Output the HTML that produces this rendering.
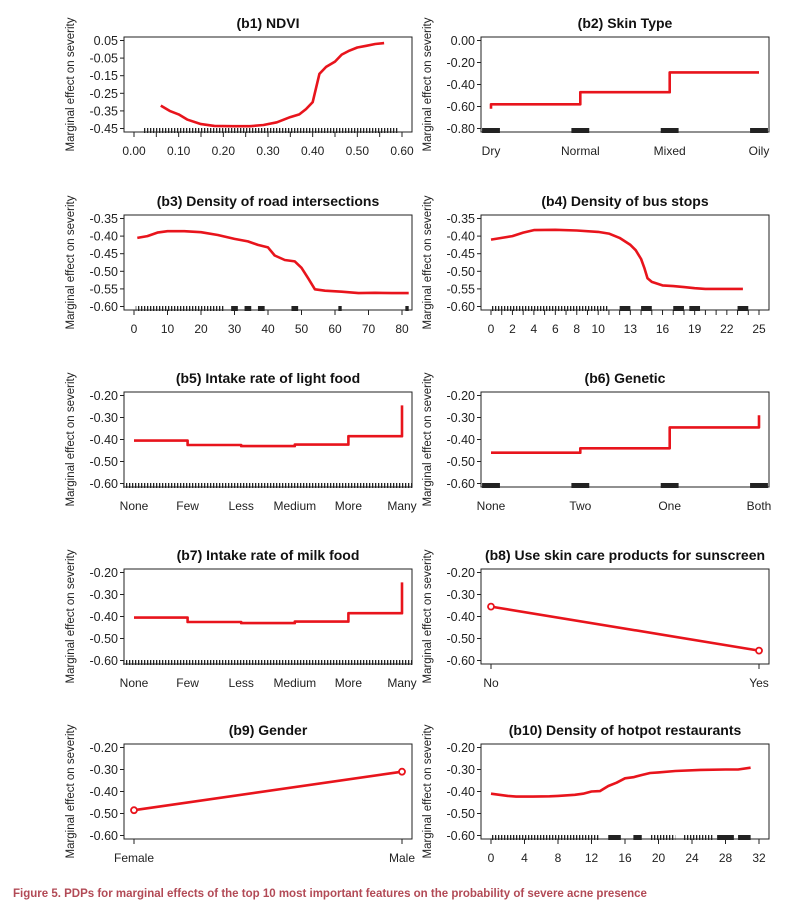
<!DOCTYPE html>
<html><head><meta charset="utf-8"><style>
html,body{margin:0;padding:0;background:#fff;width:804px;height:904px;overflow:hidden}
svg{display:block}
text{font-family:"Liberation Sans",Arial,sans-serif}
</style></head><body>
<svg id="fig" width="804" height="904" viewBox="0 0 804 904" xmlns="http://www.w3.org/2000/svg">
<defs>
<pattern id="rugpat" patternUnits="userSpaceOnUse" width="3" height="6"><rect x="0" y="0" width="1.3" height="6" fill="#222"/></pattern>
</defs>
<text x="13" y="897" font-size="11.5" font-weight="bold" fill="#b24a56">Figure 5.  PDPs for marginal effects of the top 10 most important features on the probability of severe acne presence</text>
</svg>
<script>
// ---- data arrays ----
const b1X=[0.06,0.08,0.10,0.12,0.15,0.18,0.22,0.26,0.29,0.32,0.35,0.37,0.385,0.40,0.415,0.43,0.45,0.465,0.48,0.50,0.52,0.54,0.56];
const b1Y=[-0.32,-0.35,-0.37,-0.40,-0.425,-0.435,-0.437,-0.437,-0.43,-0.415,-0.385,-0.37,-0.34,-0.30,-0.14,-0.10,-0.07,-0.03,-0.01,0.01,0.02,0.03,0.035];
const b1YTicks=[0.05,-0.05,-0.15,-0.25,-0.35,-0.45];
const b1XTicks=[0,0.05,0.1,0.15,0.2,0.25,0.3,0.35,0.4,0.45,0.5,0.55,0.6];
const b1XLabels=["0.00","","0.10","","0.20","","0.30","","0.40","","0.50","","0.60"];

const b2Cats=["Dry","Normal","Mixed","Oily"];
const b2X=[1,1,2,2,3,3,4];
const b2Y=[-0.62,-0.58,-0.58,-0.47,-0.47,-0.29,-0.29];
const b2YTicks=[0,-0.2,-0.4,-0.6,-0.8];

const b3X=[1,4,7,10,15,20,25,30,34,37,40,42,45,48,50,52,54,57,62,67,72,77,82];
const b3Y=[-0.405,-0.40,-0.39,-0.386,-0.386,-0.389,-0.397,-0.408,-0.415,-0.425,-0.432,-0.455,-0.468,-0.472,-0.49,-0.52,-0.551,-0.555,-0.558,-0.562,-0.561,-0.562,-0.562];
const b3YTicks=[-0.35,-0.40,-0.45,-0.50,-0.55,-0.60];
const b3XTicks=[0,10,20,30,40,50,60,70,80];

const b4X=[0,1,2,3,4,6,8,10,11,12,13,13.5,14,14.3,14.6,15,16,17,18,19,20,22,23.5];
const b4Y=[-0.41,-0.405,-0.40,-0.39,-0.383,-0.382,-0.384,-0.388,-0.393,-0.405,-0.425,-0.44,-0.465,-0.49,-0.52,-0.53,-0.54,-0.542,-0.545,-0.548,-0.55,-0.55,-0.55];
const b4YTicks=[-0.35,-0.40,-0.45,-0.50,-0.55,-0.60];
const b4XTicks=[0,1,2,3,4,5,6,7,8,9,10,11,12,13,14,15,16,17,18,19,20,21,22,23,24,25];
const b4XLabels=["0","","2","","4","","6","","8","","10","","","13","","","16","","","19","","","22","","","25"];

const b5Cats=["None","Few","Less","Medium","More","Many"];
const b5X=[1,2,2,3,3,4,4,5,5,6,6];
const b5Y=[-0.405,-0.405,-0.425,-0.425,-0.43,-0.43,-0.423,-0.423,-0.385,-0.385,-0.245];
const b5YTicks=[-0.2,-0.3,-0.4,-0.5,-0.6];

const b6Cats=["None","Two","One","Both"];
const b6X=[1,2,2,3,3,4,4];
const b6Y=[-0.46,-0.46,-0.44,-0.44,-0.345,-0.345,-0.29];
const b6YTicks=[-0.2,-0.3,-0.4,-0.5,-0.6];

const b7Cats=["None","Few","Less","Medium","More","Many"];
const b7X=[1,2,2,3,3,4,4,5,5,6,6];
const b7Y=[-0.405,-0.405,-0.425,-0.425,-0.43,-0.43,-0.423,-0.423,-0.385,-0.385,-0.245];
const b7YTicks=[-0.2,-0.3,-0.4,-0.5,-0.6];

const b8Cats=["No","Yes"];
const b8X=[1,2];
const b8Y=[-0.355,-0.555];
const b8YTicks=[-0.2,-0.3,-0.4,-0.5,-0.6];

const b9Cats=["Female","Male"];
const b9X=[1,2];
const b9Y=[-0.485,-0.31];
const b9YTicks=[-0.2,-0.3,-0.4,-0.5,-0.6];

const b10X=[0,1,2,3,5,7,8,10,11,12,13,14,15,16,17,18,19,20,22,25,28,29.5,31];
const b10Y=[-0.41,-0.415,-0.42,-0.423,-0.423,-0.422,-0.42,-0.415,-0.41,-0.40,-0.398,-0.375,-0.36,-0.34,-0.335,-0.325,-0.316,-0.313,-0.307,-0.302,-0.30,-0.30,-0.292];
const b10YTicks=[-0.2,-0.3,-0.4,-0.5,-0.6];
const b10XTicks=[0,4,8,12,16,20,24,28,32];

// rug ranges (data-space intervals where observations lie)
const b1Rug=[[0.02,0.59]];
const b2Rug=[[0.9,1.1],[1.9,2.1],[2.9,3.1],[3.9,4.1]];
const b3Rug=[[0.5,27],[29,31],[33,35],[37,39],[47,49],[61,62],[81,82]];
const b4Rug=[[0,11],[12,13],[14,15],[17,18],[18.5,19.5],[23,24]];
const b5Rug=[[0.8,6.2]];
const b6Rug=[[0.9,1.1],[1.9,2.1],[2.9,3.1],[3.9,4.1]];
const b7Rug=[[0.8,6.2]];
const b10Rug=[[0,13],[14,15.5],[17,18],[19,22],[23,26.5],[27,29],[29.5,31]];

// ---- rendering ----
const svg=document.getElementById('fig');
const NS='http://www.w3.org/2000/svg';
function mk(tag,attrs,parent){const e=document.createElementNS(NS,tag);for(const k in attrs)e.setAttribute(k,attrs[k]);(parent||svg).appendChild(e);return e;}
const colL=124,colR=481,boxW=288,boxH=95;
const rowTops=[37,215,392,569,744];

function panel(p){
  const bx=p.col===0?colL:colR, by=rowTops[p.row];
  const g=mk('g',{});
  
  
  const yt=p.yTicks, y0=yt[0], y1=yt[yt.length-1];
  const ys=v=>by+3.5+(y0-v)/(y0-y1)*(boxH-7);
  const xs=v=>bx+10+(v-p.xmin)/(p.xmax-p.xmin)*(boxW-20);
  const t=mk('text',{x:bx+boxW/2,y:by-9,'font-size':14,'font-weight':'bold','text-anchor':'middle',fill:'#111'},g);
  t.textContent=p.title;
  
  
  const yl=mk('text',{transform:`translate(${bx-50},${by+boxH/2}) rotate(-90)`,'font-size':11.5,'text-anchor':'middle',fill:'#222'},g);
  yl.textContent='Marginal effect on severity';
  
  
  yt.forEach(v=>{
    const y=ys(v);
    const tk=mk('line',{x1:bx-4,x2:bx,y1:y,y2:y,stroke:'#222','stroke-width':1},g);
    
    
    const lb=mk('text',{x:bx-6,y:y+4.5,'font-size':12.5,'text-anchor':'end',fill:'#222'},g);
    lb.textContent=v.toFixed(2).replace('-0.00','0.00');
    
    
  });
  (p.rug||[]).forEach(r=>{
    const w=xs(r[1])-xs(r[0]);
    const rr=mk('rect',{x:xs(r[0]),y:by+boxH-4,width:Math.max(1,w),height:5,fill:w>20?'url(#rugpat)':'#222'},g);
    
    
  });
  const xticks=p.xTicks||p.cats.map((c,i)=>i+1);
  const xlabels=p.xLabels||(p.cats?p.cats:xticks.map(String));
  xticks.forEach((v,i)=>{
    const x=xs(v);
    if(!p.noXTicks){
      const tk=mk('line',{x1:x,x2:x,y1:by+boxH,y2:by+boxH+5,stroke:'#222','stroke-width':1},g);
      
      
    }
    if(xlabels[i]){
      const lb=mk('text',{x:x,y:by+boxH+23,'font-size':12,'text-anchor':'middle',fill:'#222'},g);
      lb.textContent=xlabels[i];
      
      
    }
  });
  const b=mk('rect',{x:bx,y:by,width:boxW,height:boxH,fill:'none',stroke:'#222','stroke-width':1},g);
  
  
  const pts=p.x.map((v,i)=>xs(v).toFixed(1)+','+ys(p.y[i]).toFixed(1)).join(' ');
  const pl=mk('polyline',{points:pts,fill:'none',stroke:'#e8141c','stroke-width':2.6,'stroke-linejoin':'round'},g);
  
  
  if(p.points){
    p.x.forEach((v,i)=>{
      const c=mk('circle',{cx:xs(v),cy:ys(p.y[i]),r:3,fill:'#fff',stroke:'#e8141c','stroke-width':1.8},g);
      
      
    });
  }
}

const panels=[
 {id:'b1',row:0,col:0,title:'(b1) NDVI',x:b1X,y:b1Y,yTicks:b1YTicks,xTicks:b1XTicks,xLabels:b1XLabels,xmin:0,xmax:0.6,rug:b1Rug},
 {id:'b2',row:0,col:1,title:'(b2) Skin Type',x:b2X,y:b2Y,yTicks:b2YTicks,cats:b2Cats,xmin:1,xmax:4,rug:b2Rug,noXTicks:true},
 {id:'b3',row:1,col:0,title:'(b3) Density of road intersections',x:b3X,y:b3Y,yTicks:b3YTicks,xTicks:b3XTicks,xmin:0,xmax:80,rug:b3Rug},
 {id:'b4',row:1,col:1,title:'(b4) Density of bus stops',x:b4X,y:b4Y,yTicks:b4YTicks,xTicks:b4XTicks,xLabels:b4XLabels,xmin:0,xmax:25,rug:b4Rug},
 {id:'b5',row:2,col:0,title:'(b5) Intake rate of light food',x:b5X,y:b5Y,yTicks:b5YTicks,cats:b5Cats,xmin:1,xmax:6,rug:b5Rug,noXTicks:true},
 {id:'b6',row:2,col:1,title:'(b6) Genetic',x:b6X,y:b6Y,yTicks:b6YTicks,cats:b6Cats,xmin:1,xmax:4,rug:b6Rug,noXTicks:true},
 {id:'b7',row:3,col:0,title:'(b7) Intake rate of milk food',x:b7X,y:b7Y,yTicks:b7YTicks,cats:b7Cats,xmin:1,xmax:6,rug:b7Rug,noXTicks:true},
 {id:'b8',row:3,col:1,title:'(b8) Use skin care products for sunscreen',x:b8X,y:b8Y,yTicks:b8YTicks,cats:b8Cats,xmin:1,xmax:2,points:true},
 {id:'b9',row:4,col:0,title:'(b9) Gender',x:b9X,y:b9Y,yTicks:b9YTicks,cats:b9Cats,xmin:1,xmax:2,points:true},
 {id:'b10',row:4,col:1,title:'(b10) Density of hotpot restaurants',x:b10X,y:b10Y,yTicks:b10YTicks,xTicks:b10XTicks,xmin:0,xmax:32,rug:b10Rug}
];
panels.forEach(panel);
</script>
</body></html>
